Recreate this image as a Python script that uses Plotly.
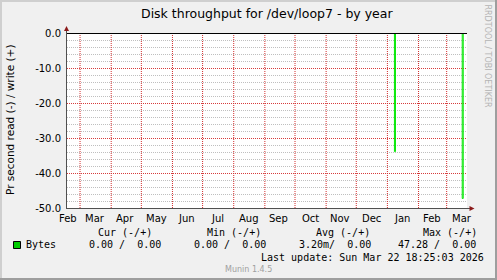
import plotly.graph_objects as go
import pandas as pd

# ---------------- data ----------------
title = "Disk throughput for /dev/loop7 - by year"
y_title = "Pr second read (-) / write (+)"
x_range = ["2025-02-16 00:00", "2026-03-21 06:00"]
month_starts = ["2025-03-01", "2025-04-01", "2025-05-01", "2025-06-01", "2025-07-01",
                "2025-08-01", "2025-09-01", "2025-10-01", "2025-11-01", "2025-12-01",
                "2026-01-01", "2026-02-01", "2026-03-01"]
month_labels = ["Feb", "Mar", "Apr", "May", "Jun", "Jul", "Aug", "Sep", "Oct",
                "Nov", "Dec", "Jan", "Feb", "Mar"]
month_label_dates = ["2025-02-14", "2025-03-16", "2025-04-15", "2025-05-16", "2025-06-15",
                     "2025-07-16", "2025-08-16", "2025-09-15", "2025-10-16", "2025-11-15",
                     "2025-12-16", "2026-01-16", "2026-02-14", "2026-03-16"]
y_ticks = [0, -10, -20, -30, -40, -50]
y_minor = [-2, -4, -6, -8, -12, -14, -16, -18, -22, -24, -26, -28,
           -32, -34, -36, -38, -42, -44, -46, -48]

read_dates = ["2025-02-16 00:00", "2026-01-08 00:00", "2026-01-09 00:00", "2026-03-16 12:00",
              "2026-03-17 12:00", "2026-03-21 06:00"]
read_vals = [0, 33.9, 0, 47.28, 0, 0]
write_dates = ["2025-02-16 00:00", "2026-03-21 06:00"]
write_vals = [0, 0]

series_name = "Bytes"
stat_headers = ["Cur (-/+)", "Min (-/+)", "Avg (-/+)", "Max (-/+)"]
stat_values = ["0.00 /  0.00", "0.00 /  0.00", "3.20m/  0.00", "47.28 /  0.00"]
last_update = "Last update: Sun Mar 22 18:25:03 2026"
footer = "Munin 1.4.5"
side_text = "RRDTOOL / TOBI OETIKER"

# ---------------- layout helpers ----------------
W, H = 497, 280
PL, PR, PT, PB = 67, 467, 33, 208  # plot area in pixels
Y_RANGE = [-50, 0]
HALF_PX_Y = 0.5 * (Y_RANGE[1] - Y_RANGE[0]) / (PB - PT)


def px(x):
    return (x - PL) / (PR - PL)


def py(y):
    return (PB - y) / (PB - PT)


GREEN = "#00CC00"
LINE_GREEN = "#00E800"
MONO = "DejaVu Sans Mono"
SANS = "DejaVu Sans"
MAJ_GRID = "rgb(215,60,60)"
MAJ_GRID_V = "rgb(210,45,45)"
MIN_GRID = "rgba(128,128,128,0.5)"
DOTS = "1px,1px"

fig = go.Figure()
fig.add_trace(go.Scatter(x=pd.to_datetime(read_dates, format="mixed"), y=[-v for v in read_vals],
                         mode="lines", line=dict(color=LINE_GREEN, width=1, shape="hv"),
                         showlegend=False, hoverinfo="skip"))
fig.add_trace(go.Scatter(x=pd.to_datetime(write_dates, format="mixed"), y=write_vals,
                         mode="lines", line=dict(color=LINE_GREEN, width=1, shape="hv"),
                         showlegend=False, hoverinfo="skip"))

shapes = []
# grid lines (dotted), shifted half a pixel so they stay crisp
for v in y_minor:
    shapes.append(dict(type="line", xref="paper", yref="y", x0=0, x1=1,
                       y0=v - HALF_PX_Y, y1=v - HALF_PX_Y,
                       line=dict(color=MIN_GRID, width=1, dash=DOTS), layer="below"))
for v in y_ticks:
    shapes.append(dict(type="line", xref="paper", yref="y", x0=0, x1=1,
                       y0=v - HALF_PX_Y, y1=v - HALF_PX_Y,
                       line=dict(color=MAJ_GRID, width=1, dash=DOTS), layer="below"))
for d in month_starts:
    shapes.append(dict(type="line", xref="x", yref="paper", x0=d, x1=d, y0=0, y1=1,
                       line=dict(color=MAJ_GRID_V, width=1, dash=DOTS), layer="below"))
# zero line
shapes.append(dict(type="line", xref="paper", yref="y", x0=0, x1=1, y0=0, y1=0,
                   line=dict(color="black", width=2), layer="above"))
# axes
shapes.append(dict(type="line", xref="paper", yref="paper", x0=px(66.5), x1=px(66.5),
                   y0=py(208), y1=py(30), line=dict(color="#505050", width=1), layer="above"))
shapes.append(dict(type="line", xref="paper", yref="paper", x0=px(66), x1=px(471),
                   y0=py(208.5), y1=py(208.5), line=dict(color="#505050", width=1), layer="above"))
# arrows
shapes.append(dict(type="path", xref="paper", yref="paper",
                   path=f"M {px(64)} {py(31)} L {px(69)} {py(31)} L {px(66.5)} {py(26)} Z",
                   fillcolor="#8B1A1A", line=dict(width=0), layer="above"))
shapes.append(dict(type="path", xref="paper", yref="paper",
                   path=f"M {px(469.5)} {py(206)} L {px(469.5)} {py(211)} L {px(474.5)} {py(208.5)} Z",
                   fillcolor="#8B1A1A", line=dict(width=0), layer="above"))
# outer frame
shapes.append(dict(type="rect", xref="paper", yref="paper", x0=px(0), x1=px(2), y0=py(0), y1=py(H),
                   fillcolor="#CFCFCF", line=dict(width=0), layer="above"))
shapes.append(dict(type="rect", xref="paper", yref="paper", x0=px(0), x1=px(W), y0=py(0), y1=py(2),
                   fillcolor="#CFCFCF", line=dict(width=0), layer="above"))
shapes.append(dict(type="rect", xref="paper", yref="paper", x0=px(W - 2), x1=px(W), y0=py(0), y1=py(H),
                   fillcolor="#9E9E9E", line=dict(width=0), layer="above"))
shapes.append(dict(type="rect", xref="paper", yref="paper", x0=px(0), x1=px(W), y0=py(H - 2), y1=py(H),
                   fillcolor="#9E9E9E", line=dict(width=0), layer="above"))
# legend square
shapes.append(dict(type="rect", xref="paper", yref="paper", x0=px(13.5), x1=px(20.5),
                   y0=py(248.5), y1=py(241.5), fillcolor=GREEN,
                   line=dict(color="black", width=1), layer="above"))

ann = []


def text(x, y, s, size=10, family=MONO, color="black", xanchor="left", angle=0, xref="paper"):
    ann.append(dict(x=x, y=py(y), xref=xref, yref="paper", text=s, showarrow=False,
                    xanchor=xanchor, yanchor="middle", textangle=angle,
                    borderpad=0, borderwidth=0,
                    font=dict(family=family, size=size, color=color)))


text(0.5, 13.5, title, size=12.5, family=SANS, xanchor="center")
text(px(10), 120, y_title, size=10.5, family=SANS, xanchor="center", angle=-90)
text(px(487.5), 56, side_text, size=8, family=SANS, color="#B4B4B4", xanchor="center", angle=90)

# month labels (clamped to the visible range)
start = pd.Timestamp(x_range[0])
for d, lab in zip(month_label_dates, month_labels):
    t = max(pd.Timestamp(d), start + pd.Timedelta(days=1))
    text(t, 218, lab, size=10, family=SANS, xanchor="center", xref="x")

hdr_x = [97.5, 207.2, 315.5, 423.2]
val_x = [88.5, 194, 298.5, 398.2]
for xh, s in zip(hdr_x, stat_headers):
    text(px(xh), 232, s)
text(px(26), 244.5, series_name)
for xv, s in zip(val_x, stat_values):
    text(px(xv), 244.5, s)
text(px(261), 257, last_update)
text(px(248.5), 269, footer, size=8, family=SANS, color="#A0A0A0", xanchor="center")

fig.update_layout(
    width=W, height=H,
    margin=dict(l=PL, r=W - PR, t=PT, b=H - PB),
    paper_bgcolor="#F0F0F0", plot_bgcolor="white",
    shapes=shapes, annotations=ann, showlegend=False,
    xaxis=dict(type="date", range=x_range, showticklabels=False, showgrid=False,
               zeroline=False, showline=False, ticks=""),
    yaxis=dict(range=Y_RANGE, tickvals=y_ticks, ticktext=[f"{v:.1f}" for v in y_ticks],
               tickfont=dict(family=SANS, size=10, color="black"), showgrid=False,
               zeroline=False, showline=False, ticks="", ticklabelstandoff=5),
)

fig.write_html("out.html")
